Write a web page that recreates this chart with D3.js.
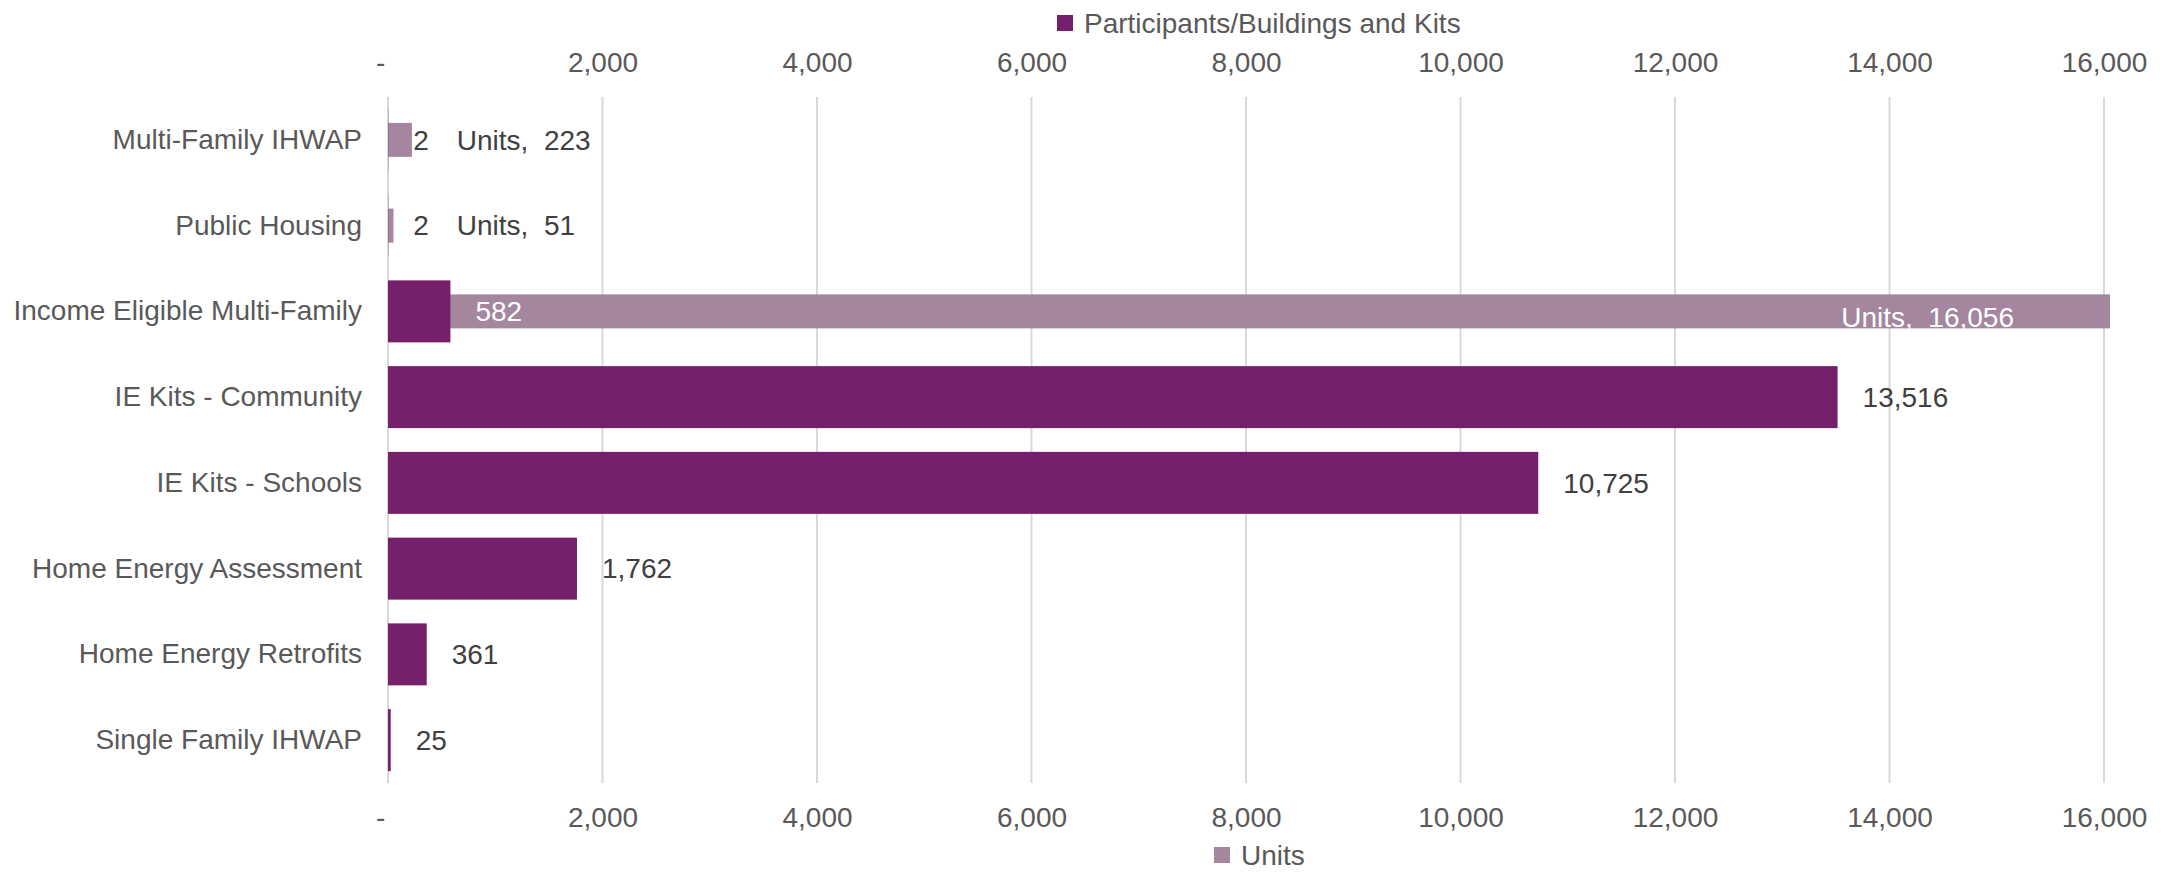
<!DOCTYPE html>
<html>
<head>
<meta charset="utf-8">
<script src="https://cdn.jsdelivr.net/npm/d3@7"></script>
<style>
	body { margin: 0; background: #fff; }
	svg { display: block; font-family: 'Liberation Sans', Arial, sans-serif; }
</style>
</head>
<body>
<svg></svg>
<script>
const categories = [
	'Multi-Family IHWAP',
	'Public Housing',
	'Income Eligible Multi-Family',
	'IE Kits - Community',
	'IE Kits - Schools',
	'Home Energy Assessment',
	'Home Energy Retrofits',
	'Single Family IHWAP'
];
const participants = [2, 2, 582, 13516, 10725, 1762, 361, 25];
const units = [223, 51, 16056, null, null, null, null, null];
const xTicks = [0, 2000, 4000, 6000, 8000, 10000, 12000, 14000, 16000];
const seriesNames = ['Participants/Buildings and Kits', 'Units'];
const colors = ['#76206C', '#A4879F'];

const svg = d3.select('svg')
	.attr('width', 2164)
	.attr('height', 872);

const render = () => {
	const plotLeft = 388,
		plotRight = 2104,
		plotTop = 97,
		plotBottom = 783,
		fontSize = 28,
		labelGap = 25,
		unitsBarHeight = 34;

	const data = categories.map((c, i) => ({ cat: c, p: participants[i], u: units[i] }));

	const xScale = d3.scaleLinear()
		.domain([xTicks[0], xTicks[xTicks.length - 1]])
		.range([plotLeft, plotRight]);

	const yScale = d3.scaleBand()
		.domain(categories)
		.range([plotTop, plotBottom])
		.paddingInner(0.277)
		.paddingOuter(0.1385);

	const fmt = d3.format(',');
	const tickFmt = d => d === 0 ? '-\u00a0\u00a0' : fmt(d);

	// gridlines
	svg.append('g')
		.selectAll('line')
		.data(xTicks)
		.enter().append('line')
		.attr('x1', d => xScale(d))
		.attr('x2', d => xScale(d))
		.attr('y1', plotTop)
		.attr('y2', plotBottom)
		.attr('stroke', '#d9d9d9')
		.attr('stroke-width', 2);

	const styleAxis = g => {
		g.select('.domain').remove();
		g.selectAll('text')
			.attr('fill', '#595959')
			.attr('font-size', fontSize)
			.attr('font-family', "'Liberation Sans', Arial, sans-serif");
	};

	svg.append('g')
		.attr('transform', `translate(0, ${plotTop})`)
		.call(d3.axisTop(xScale).tickValues(xTicks).tickFormat(tickFmt).tickSize(0).tickPadding(25))
		.call(styleAxis);

	svg.append('g')
		.attr('transform', `translate(0, ${plotBottom})`)
		.call(d3.axisBottom(xScale).tickValues(xTicks).tickFormat(tickFmt).tickSize(0).tickPadding(24))
		.call(styleAxis);

	svg.append('g')
		.attr('transform', `translate(${plotLeft}, 0)`)
		.call(d3.axisLeft(yScale).tickSize(0).tickPadding(26))
		.call(styleAxis);

	// Units bars (behind)
	const unitData = data.filter(d => d.u != null);
	svg.append('g')
		.selectAll('rect')
		.data(unitData)
		.enter().append('rect')
		.attr('x', xScale(0))
		.attr('y', d => yScale(d.cat) + (yScale.bandwidth() - unitsBarHeight) / 2)
		.attr('width', d => xScale(d.u) - xScale(0))
		.attr('height', unitsBarHeight)
		.attr('fill', colors[1]);

	// Participant bars
	svg.append('g')
		.selectAll('rect')
		.data(data)
		.enter().append('rect')
		.attr('x', xScale(0))
		.attr('y', d => yScale(d.cat))
		.attr('width', d => xScale(d.p) - xScale(0))
		.attr('height', yScale.bandwidth())
		.attr('fill', colors[0]);

	// labels
	const cy = d => yScale(d.cat) + yScale.bandwidth() / 2;
	const inUnits = d => d.u != null && xScale(d.p) + labelGap < xScale(d.u) - 200;

	const pLabels = svg.append('g')
		.selectAll('text')
		.data(data)
		.enter().append('text')
		.attr('x', d => xScale(d.p) + labelGap)
		.attr('y', cy)
		.attr('dy', '0.35em')
		.attr('font-size', fontSize)
		.attr('fill', d => inUnits(d) ? '#ffffff' : '#404040')
		.text(d => fmt(d.p));

	const pEnd = {};
	pLabels.each(function (d) {
		pEnd[d.cat] = xScale(d.p) + labelGap + this.getComputedTextLength();
	});

	svg.append('g')
		.selectAll('text')
		.data(unitData)
		.enter().append('text')
		.attr('x', d => inUnits(d) ? xScale(d.u) - 96 : pEnd[d.cat] + 28)
		.attr('y', d => cy(d) + (inUnits(d) ? 6 : 0))
		.attr('dy', '0.35em')
		.attr('text-anchor', d => inUnits(d) ? 'end' : 'start')
		.attr('font-size', fontSize)
		.attr('fill', d => inUnits(d) ? '#ffffff' : '#404040')
		.text(d => `${seriesNames[1]},\u00a0\u00a0${fmt(d.u)}`);

	// legends
	const legend = (x, y, i) => {
		const lg = svg.append('g').attr('transform', `translate(${x}, ${y})`);
		lg.append('rect')
			.attr('x', 0)
			.attr('y', -8)
			.attr('width', 16)
			.attr('height', 16)
			.attr('fill', colors[i]);
		lg.append('text')
			.attr('x', 27)
			.attr('dy', '0.35em')
			.attr('font-size', fontSize)
			.attr('fill', '#595959')
			.text(seriesNames[i]);
	};
	legend(1057, 23, 0);
	legend(1214, 855, 1);
};

render();
</script>
</body>
</html>
